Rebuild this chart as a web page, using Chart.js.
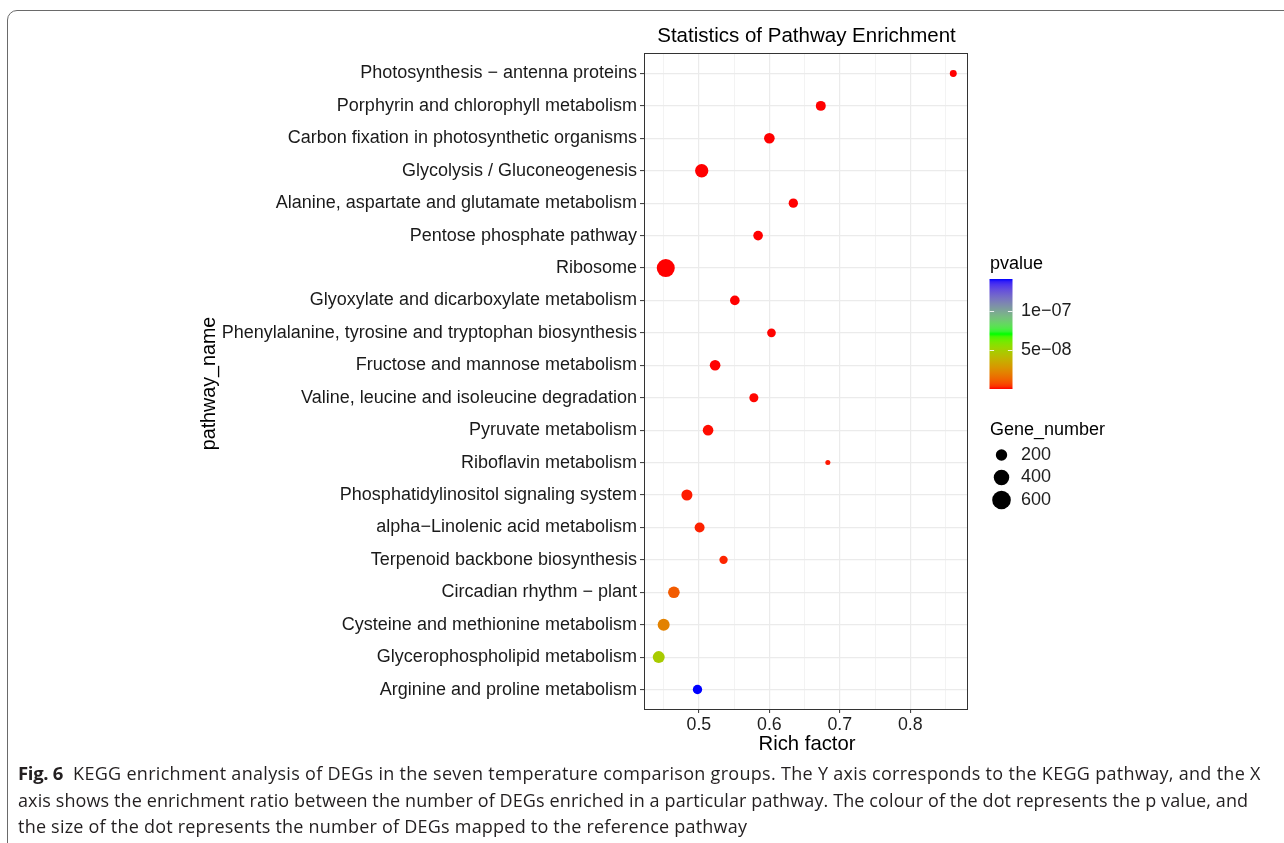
<!DOCTYPE html>
<html>
<head>
<meta charset="utf-8">
<title>Statistics of Pathway Enrichment</title>
<script src="https://cdn.jsdelivr.net/npm/chart.js@4.4.1/dist/chart.umd.min.js"></script>
<style>
  html, body { margin: 0; padding: 0; background: #fff; width: 1284px; height: 843px; overflow: hidden; }
  #frame { position: absolute; left: 7px; top: 10px; width: 1400px; height: 1000px;
           border: 1.5px solid #6a6a6a; border-radius: 10px; box-sizing: border-box; }
  #wrap { position: absolute; left: 0; top: 0; width: 1284px; height: 843px; }
  #caption { position: absolute; left: 18px; top: 760px; font-family: "Open Sans", sans-serif;
             font-size: 18px; color: #231f20; line-height: 26.5px; white-space: nowrap; }
  #caption b { font-size: 18.5px; letter-spacing: -0.3px; }
  #l1 { letter-spacing: 0.3px; }
  #l2 { letter-spacing: 0.11px; }
  #l3 { letter-spacing: 0.22px; }
</style>
</head>
<body>
<div id="frame"></div>
<div id="wrap"><canvas id="c" width="1284" height="843"></canvas></div>
<div id="caption">
  <div id="l1"><b>Fig. 6</b>&nbsp; KEGG enrichment analysis of DEGs in the seven temperature comparison groups. The Y axis corresponds to the KEGG pathway, and the X</div>
  <div id="l2">axis shows the enrichment ratio between the number of DEGs enriched in a particular pathway. The colour of the dot represents the p value, and</div>
  <div id="l3">the size of the dot represents the number of DEGs mapped to the reference pathway</div>
</div>
<script>
// KEGG pathways, top to bottom
const pathways = [
  "Photosynthesis \u2212 antenna proteins",
  "Porphyrin and chlorophyll metabolism",
  "Carbon fixation in photosynthetic organisms",
  "Glycolysis / Gluconeogenesis",
  "Alanine, aspartate and glutamate metabolism",
  "Pentose phosphate pathway",
  "Ribosome",
  "Glyoxylate and dicarboxylate metabolism",
  "Phenylalanine, tyrosine and tryptophan biosynthesis",
  "Fructose and mannose metabolism",
  "Valine, leucine and isoleucine degradation",
  "Pyruvate metabolism",
  "Riboflavin metabolism",
  "Phosphatidylinositol signaling system",
  "alpha\u2212Linolenic acid metabolism",
  "Terpenoid backbone biosynthesis",
  "Circadian rhythm \u2212 plant",
  "Cysteine and methionine metabolism",
  "Glycerophospholipid metabolism",
  "Arginine and proline metabolism"
];
const richFactor = [0.861, 0.673, 0.600, 0.504, 0.634, 0.584, 0.453, 0.551, 0.603, 0.523,
                    0.578, 0.513, 0.683, 0.483, 0.501, 0.535, 0.4645, 0.450, 0.443, 0.498];
const geneNumber = [60, 145, 170, 285, 125, 135, 560, 135, 105, 170,
                    115, 170, 25, 185, 145, 95, 210, 225, 225, 125];
const pValue = [2.0e-12, 1.5e-13, 4.0e-14, 1.0e-15, 3.0e-12, 6.0e-12, 1.0e-30, 5.0e-12, 8.0e-11, 3.0e-11,
                2.0e-10, 4.0e-10, 9.0e-10, 1.2e-9, 1.6e-9, 2.0e-9, 1.06e-8, 2.1e-8, 4.8e-8, 1.41e-7];

const xMajor = [0.5, 0.6, 0.7, 0.8];
const xMinor = [0.45, 0.55, 0.65, 0.75, 0.85];
const xTickLabels = ["0.5", "0.6", "0.7", "0.8"];

const pBreaks = [5e-8, 1e-7];
const pBreakLabels = ["5e\u221208", "1e\u221207"];
const sizeBreaks = [200, 400, 600];
const sizeBreakLabels = ["200", "400", "600"];
const gradientColours = ["#FF0000", "#00FF00", "#0000FF"];

// ---- helpers ----
const FONT = '"Liberation Sans", Arial, Helvetica, sans-serif';

function radius(n) { return 0.78 + 0.348 * Math.sqrt(n); }

function srgbToLab(hex) {
  const v = [1, 3, 5].map(i => parseInt(hex.substr(i, 2), 16) / 255)
    .map(c => c <= 0.04045 ? c / 12.92 : Math.pow((c + 0.055) / 1.055, 2.4));
  const [R, G, B] = v;
  const X = (0.4124 * R + 0.3576 * G + 0.1805 * B) / 0.95047;
  const Y = 0.2126 * R + 0.7152 * G + 0.0722 * B;
  const Z = (0.0193 * R + 0.1192 * G + 0.9505 * B) / 1.08883;
  const f = t => t > 0.008856 ? Math.cbrt(t) : 7.787 * t + 16 / 116;
  return [116 * f(Y) - 16, 500 * (f(X) - f(Y)), 200 * (f(Y) - f(Z))];
}
function labToRgb([L, a, b]) {
  const fy = (L + 16) / 116, fx = fy + a / 500, fz = fy - b / 200;
  const inv = t => t * t * t > 0.008856 ? t * t * t : (t - 16 / 116) / 7.787;
  const X = 0.95047 * inv(fx), Y = inv(fy), Z = 1.08883 * inv(fz);
  const R = 3.2406 * X - 1.5372 * Y - 0.4986 * Z;
  const G = -0.9689 * X + 1.8758 * Y + 0.0415 * Z;
  const B = 0.0557 * X - 0.2040 * Y + 1.0570 * Z;
  const g = c => { c = Math.max(0, Math.min(1, c));
    return Math.round(255 * (c <= 0.0031308 ? 12.92 * c : 1.055 * Math.pow(c, 1 / 2.4) - 0.055)); };
  return `rgb(${g(R)},${g(G)},${g(B)})`;
}
const labStops = gradientColours.map(srgbToLab);
function rampColour(t) {
  t = Math.max(0, Math.min(1, t));
  const seg = labStops.length - 1;
  const k = Math.min(seg - 1, Math.floor(t * seg));
  const s = t * seg - k;
  const A = labStops[k], B = labStops[k + 1];
  return labToRgb([0, 1, 2].map(i => A[i] + (B[i] - A[i]) * s));
}
const pMin = Math.min(...pValue), pMax = Math.max(...pValue);
const pToT = p => (p - pMin) / (pMax - pMin);

const xLo = Math.min(...richFactor), xHi = Math.max(...richFactor);
const xPad = (xHi - xLo) * 0.05;

const isMajor = v => xMajor.some(m => Math.abs(m - v) < 1e-9);

// titles, panel border and legends
const decor = {
  id: 'decor',
  afterDraw(chart) {
    const { ctx, chartArea: a } = chart;
    ctx.save();
    // panel border
    ctx.strokeStyle = '#333';
    ctx.lineWidth = 1;
    ctx.strokeRect(Math.round(a.left) + 0.5, Math.round(a.top) - 0.5,
                   Math.round(a.right - a.left) - 1, Math.round(a.bottom - a.top) + 1);

    const cx = (a.left + a.right) / 2;
    ctx.fillStyle = '#000';
    ctx.textAlign = 'center';
    ctx.textBaseline = 'middle';
    ctx.font = `20.5px ${FONT}`;
    ctx.fillText('Statistics of Pathway Enrichment', cx + 0.5, 36);
    ctx.font = `20.3px ${FONT}`;
    ctx.fillText('Rich factor', cx + 1, 744);
    ctx.save();
    ctx.translate(210, (a.top + a.bottom) / 2 + 2);
    ctx.rotate(-Math.PI / 2);
    ctx.font = `19.7px ${FONT}`;
    ctx.fillText('pathway_name', 0, 0);
    ctx.restore();

    // colour bar legend
    const bx = 989.5, bw = 23, btop = 279, bh = 110;
    ctx.textAlign = 'left';
    ctx.font = `18px ${FONT}`;
    ctx.fillStyle = '#000';
    ctx.fillText('pvalue', 990, 264);
    const grad = ctx.createLinearGradient(0, btop + bh, 0, btop);
    for (let i = 0; i <= 40; i++) grad.addColorStop(i / 40, rampColour(i / 40));
    ctx.fillStyle = grad;
    ctx.fillRect(bx, btop, bw, bh);
    ctx.strokeStyle = 'rgba(255,255,255,0.85)';
    ctx.lineWidth = 1;
    pBreaks.forEach((p, i) => {
      const y = Math.round(btop + bh - pToT(p) * bh) + 0.5;
      ctx.beginPath();
      ctx.moveTo(bx, y); ctx.lineTo(bx + bw * 0.2, y);
      ctx.moveTo(bx + bw, y); ctx.lineTo(bx + bw * 0.8, y);
      ctx.stroke();
      ctx.fillStyle = '#1e1e1e';
      ctx.fillText(pBreakLabels[i], 1021, y);
    });

    // size legend
    ctx.fillStyle = '#000';
    ctx.fillText('Gene_number', 990, 430);
    const ys = [455, 477.5, 500];
    sizeBreaks.forEach((n, i) => {
      ctx.beginPath();
      ctx.fillStyle = '#000';
      ctx.arc(1001.5, ys[i], radius(n), 0, Math.PI * 2);
      ctx.fill();
      ctx.fillStyle = '#1e1e1e';
      ctx.fillText(sizeBreakLabels[i], 1021, ys[i]);
    });
    ctx.restore();
  }
};

new Chart(document.getElementById('c').getContext('2d'), {
  type: 'bubble',
  data: {
    datasets: [{
      data: pathways.map((name, i) => ({ x: richFactor[i], y: i + 1, r: radius(geneNumber[i]) })),
      backgroundColor: pValue.map(p => rampColour(pToT(p))),
      borderWidth: 0,
      hoverRadius: 0
    }]
  },
  options: {
    responsive: false,
    animation: false,
    events: [],
    layout: { padding: { left: 0, right: 316, top: 54, bottom: 0 } },
    plugins: { legend: { display: false }, tooltip: { enabled: false } },
    scales: {
      x: {
        type: 'linear',
        min: xLo - xPad,
        max: xHi + xPad,
        afterFit(s) { s.height = 134; },
        afterBuildTicks(s) { s.ticks = [...xMinor, ...xMajor].sort((p, q) => p - q).map(v => ({ value: v })); },
        ticks: {
          autoSkip: false, maxRotation: 0, padding: 1,
          color: '#1e1e1e', font: { family: FONT, size: 17.8 },
          callback: v => { const i = xMajor.findIndex(m => Math.abs(m - v) < 1e-9); return i >= 0 ? xTickLabels[i] : ''; }
        },
        grid: {
          color: c => isMajor(c.tick.value) ? '#ebebeb' : '#f0f0f0',
          lineWidth: c => isMajor(c.tick.value) ? 1.2 : 0.8,
          tickLength: 4,
          tickColor: c => isMajor(c.tick.value) ? '#333' : 'rgba(0,0,0,0)',
          tickWidth: 1
        },
        border: { display: false }
      },
      y: {
        type: 'linear',
        min: 0.4,
        max: pathways.length + 0.6,
        reverse: true,
        afterFit(s) { s.width = 644; },
        afterBuildTicks(s) { s.ticks = pathways.map((_, i) => ({ value: i + 1 })); },
        ticks: {
          autoSkip: false, padding: 3,
          color: '#1a1a1a', font: { family: FONT, size: 18 },
          callback: v => pathways[Math.round(v) - 1]
        },
        grid: { color: '#ebebeb', lineWidth: 1.2, tickLength: 4, tickColor: '#333', tickWidth: 1 },
        border: { display: false }
      }
    }
  },
  plugins: [decor]
});
</script>
</body>
</html>
